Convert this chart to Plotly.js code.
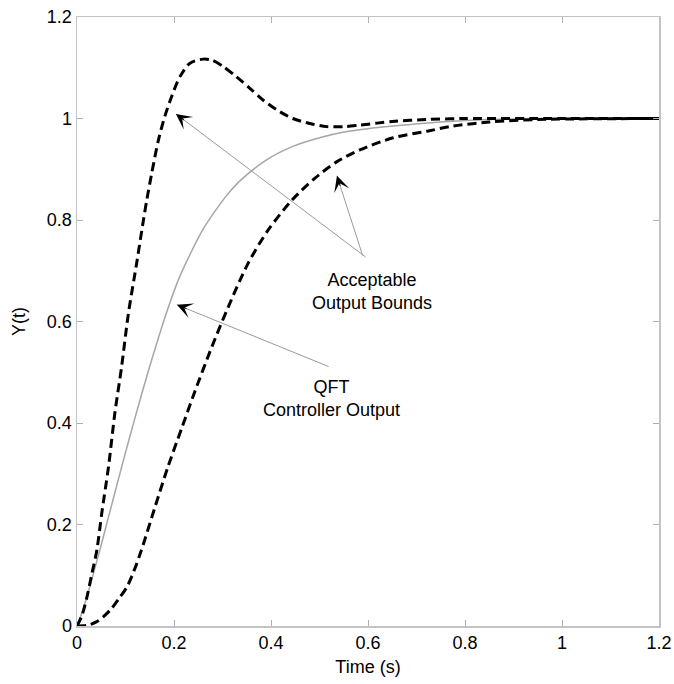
<!DOCTYPE html>
<html>
<head>
<meta charset="utf-8">
<script src="https://cdn.plot.ly/plotly-3.0.1.min.js"></script>
<style>html,body{margin:0;padding:0;background:#fff;}#chart{width:674px;height:684px;}</style>
</head>
<body>
<div id="chart"></div>
<script>
// Upper acceptable bound
const upperT = [0, 0.01, 0.02, 0.03, 0.041, 0.051, 0.065, 0.078, 0.092, 0.106, 0.123, 0.137, 0.144, 0.154, 0.168, 0.181, 0.195, 0.212, 0.233, 0.26, 0.278, 0.302, 0.329, 0.357, 0.384, 0.412, 0.445, 0.48, 0.515, 0.55, 0.583, 0.65, 0.72, 0.8, 1.0, 1.2];
const upperY = [0, 0.02, 0.055, 0.1, 0.15, 0.222, 0.314, 0.419, 0.511, 0.616, 0.715, 0.8, 0.84, 0.892, 0.958, 1.004, 1.043, 1.082, 1.109, 1.117, 1.115, 1.102, 1.082, 1.059, 1.036, 1.017, 1.0, 0.99, 0.984, 0.984, 0.987, 0.994, 0.998, 1.0, 1.0, 1.0];
// Lower acceptable bound
const lowerT = [0, 0.02, 0.04, 0.054, 0.07, 0.085, 0.103, 0.118, 0.133, 0.161, 0.188, 0.216, 0.243, 0.278, 0.312, 0.353, 0.394, 0.443, 0.49, 0.536, 0.583, 0.652, 0.722, 0.775, 0.85, 0.95, 1.2];
const lowerY = [0, 0.001, 0.008, 0.018, 0.033, 0.052, 0.077, 0.11, 0.15, 0.235, 0.315, 0.39, 0.462, 0.55, 0.629, 0.715, 0.78, 0.839, 0.882, 0.915, 0.938, 0.962, 0.975, 0.985, 0.993, 0.998, 1.0];
// QFT controller output
const qftT = [0, 0.015, 0.03, 0.05, 0.065, 0.085, 0.106, 0.126, 0.147, 0.168, 0.188, 0.209, 0.236, 0.26, 0.285, 0.31, 0.336, 0.39, 0.445, 0.5, 0.548, 0.6, 0.652, 0.75, 0.85, 1.0, 1.2];
const qftY = [0, 0.04, 0.09, 0.16, 0.215, 0.288, 0.363, 0.432, 0.502, 0.568, 0.627, 0.682, 0.738, 0.782, 0.818, 0.85, 0.877, 0.918, 0.945, 0.962, 0.973, 0.98, 0.985, 0.993, 0.998, 1.0, 1.0];

const xTicks = [0, 0.2, 0.4, 0.6, 0.8, 1, 1.2];
const xTickText = ['0', '0.2', '0.4', '0.6', '0.8', '1', '1.2'];
const yTicks = [0, 0.2, 0.4, 0.6, 0.8, 1, 1.2];
const yTickText = ['0', '0.2', '0.4', '0.6', '0.8', '1', '1.2'];

const xTitle = 'Time (s)';
const yTitle = 'Y(t)';
const boundsLabel = 'Acceptable<br>Output Bounds';
const qftLabel = 'QFT<br>Controller Output';

// arrows: [tipX, tipY, tailX, tailY]
const arrows = [
  [0.204, 1.009, 0.598, 0.725],
  [0.536, 0.887, 0.590, 0.727],
  [0.206, 0.633, 0.522, 0.510]
];

const FONT = 'Arial, Liberation Sans, sans-serif';
const dashStyle = '9px,5px';
const traces = [
  {x: qftT, y: qftY, mode: 'lines', line: {color: '#a6a6a6', width: 1.5, shape: 'spline', smoothing: 0.8}, hoverinfo: 'skip'},
  {x: upperT, y: upperY, mode: 'lines', line: {color: '#000', width: 3, dash: dashStyle, shape: 'spline', smoothing: 0.8}, hoverinfo: 'skip'},
  {x: lowerT, y: lowerY, mode: 'lines', line: {color: '#000', width: 3, dash: dashStyle, shape: 'spline', smoothing: 0.8}, hoverinfo: 'skip'}
];

const annotations = [];
arrows.forEach(a => {
  annotations.push({
    x: a[0], y: a[1], ax: a[2], ay: a[3], xref: 'x', yref: 'y', axref: 'x', ayref: 'y',
    showarrow: true, arrowhead: 0, arrowwidth: 1, arrowcolor: '#9a9a9a', text: ''
  });
});
const pxPerX = 582 / 1.2, pxPerY = 609 / 1.2;
arrows.forEach(a => {
  const dx = (a[2] - a[0]) * pxPerX, dy = -(a[3] - a[1]) * pxPerY;
  const n = Math.hypot(dx, dy);
  annotations.push({
    x: a[0], y: a[1], xref: 'x', yref: 'y', ax: dx / n * 12, ay: dy / n * 12,
    showarrow: true, arrowhead: 3, arrowsize: 2.6, arrowwidth: 1, arrowcolor: '#000', text: ''
  });
});
annotations.push({x: 0.608, y: 0.659, xref: 'x', yref: 'y', text: boundsLabel, showarrow: false,
  font: {family: FONT, size: 18, color: '#000'}});
annotations.push({x: 0.524, y: 0.449, xref: 'x', yref: 'y', text: qftLabel, showarrow: false,
  font: {family: FONT, size: 18, color: '#000'}});

const axisCommon = {
  showgrid: false, zeroline: false, showline: true, linecolor: '#c4c4c4', linewidth: 1.5,
  mirror: 'ticks', ticks: 'inside', ticklen: 6, tickcolor: '#b0b0b0', tickwidth: 1,
  tickfont: {family: FONT, size: 18, color: '#000'},
  tickmode: 'array'
};

const layout = {
  width: 674, height: 684,
  margin: {l: 77, r: 15, t: 17, b: 58},
  paper_bgcolor: '#fff', plot_bgcolor: '#fff',
  showlegend: false,
  xaxis: Object.assign({}, axisCommon, {range: [0, 1.2], tickvals: xTicks, ticktext: xTickText,
    title: {text: xTitle, font: {family: FONT, size: 18, color: '#000'}, standoff: 8}}),
  yaxis: Object.assign({}, axisCommon, {range: [0, 1.2], tickvals: yTicks, ticktext: yTickText,
    title: {text: yTitle, font: {family: FONT, size: 18, color: '#000'}, standoff: 16}}),
  annotations: annotations
};

Plotly.newPlot('chart', traces, layout, {staticPlot: true, displayModeBar: false});
</script>
</body>
</html>
